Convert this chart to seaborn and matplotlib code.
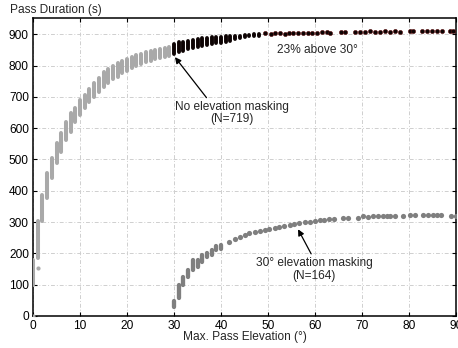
import matplotlib
matplotlib.use("Agg")
import matplotlib.pyplot as plt
import seaborn as sns
import pandas as pd

# ---- data ----
# No elevation masking, 0-29 deg (light gray columns: elevation, min, max duration)
gray_elev = list(range(0, 30))
gray_lo = [100, 185, 305, 377, 441, 489, 524, 562, 588, 620, 642, 665, 684, 700, 716,
           732, 745, 757, 764, 776, 782, 792, 798, 804, 810, 815, 820, 824, 828, 832]
gray_hi = [180, 305, 386, 457, 505, 553, 585, 620, 649, 665, 690, 706, 725, 745, 760,
           778, 790, 800, 808, 816, 822, 827, 833, 838, 843, 847, 851, 854, 857, 860]
gray_extra_elev = [0, 1]
gray_extra_dur = [0, 153]

# No elevation masking, above 30 deg (dark points)
dark_col_elev = list(range(30, 49))
dark_col_lo = [838, 843, 848, 852, 857, 860, 863, 866, 869, 871, 873, 876, 880, 884, 887, 890, 893, 893, 895]
dark_col_hi = [870, 874, 876, 880, 882, 884, 887, 889, 890, 892, 892, 894, 895, 895, 896, 899, 898, 902, 900]
dark_pt_elev = [49.4, 50.6, 51.5, 52.6, 53.6, 54.5, 55.3, 56.4, 57.4, 58.5, 59.4, 60.4, 61.4, 62.6,
                63.2, 65.5, 66.4, 68.5, 69.6, 70.6, 71.7, 72.8, 73.8, 74.9, 76.0, 77.0, 78.1, 80.2,
                80.9, 82.7, 83.8, 84.8, 85.9, 87.0, 88.7, 89.4]
dark_pt_dur = [903, 901, 903, 904, 902, 903, 904, 903, 905, 903, 905, 905, 906, 906,
               905, 907, 906, 906, 908, 907, 909, 907, 908, 909, 908, 909, 908, 910,
               909, 909, 910, 911, 909, 910, 911, 910]

# 30 deg elevation masking (medium gray)
mask_col_elev = list(range(30, 41))
mask_col_lo = [30, 58, 100, 125, 147, 157, 172, 188, 195, 210, 214]
mask_col_hi = [48, 100, 124, 147, 178, 178, 195, 200, 210, 223, 227]
mask_pt_elev = [41.7, 43.0, 44.0, 45.0, 46.0, 47.2, 48.2, 49.3, 50.3, 51.4, 52.4, 53.5, 54.6, 55.6,
                56.7, 57.8, 58.9, 59.9, 61.0, 62.0, 63.0, 64.0, 66.0, 67.0, 69.1, 70.2, 71.3, 72.3,
                73.3, 74.4, 75.4, 76.0, 77.0, 78.7, 80.2, 81.3, 83.0, 84.0, 85.0, 86.0, 86.8, 89.0, 90.0]
mask_pt_dur = [237, 246, 253, 259, 264, 267, 272, 275, 278, 282, 285, 288, 292, 295,
               297, 299, 301, 303, 306, 307, 309, 310, 312, 312, 314, 319, 317, 318,
               318, 319, 318, 320, 320, 320, 322, 322, 322, 322, 322, 323, 322, 321, 321]

x_ticks = list(range(0, 91, 10))
y_ticks = list(range(0, 901, 100))

# ---- style ----
sns.set_style("ticks")
plt.rcParams["font.family"] = ["Liberation Sans", "DejaVu Sans"]
plt.rcParams["font.size"] = 8.6

LIGHT = "#a9a9a9"
MID = "#7f7f7f"
DARK = "#0d0303"
DARK_EDGE = "#5a0c0c"

fig = plt.figure(figsize=(4.58, 3.48), dpi=100)
ax = fig.add_axes([33 / 458, 32 / 348, (456 - 33) / 458, (316 - 18) / 348])

# columns
lc = ax.vlines(gray_elev, gray_lo, gray_hi, colors=LIGHT, linewidth=2.9, zorder=3)
lc.set_capstyle("round")
lc = ax.vlines(dark_col_elev, dark_col_lo, dark_col_hi, colors=DARK, linewidth=2.8, zorder=4)
lc.set_capstyle("round")
lc = ax.vlines(mask_col_elev, mask_col_lo, mask_col_hi, colors=MID, linewidth=3.1, zorder=3)
lc.set_capstyle("round")

# points
sns.scatterplot(x=gray_extra_elev, y=gray_extra_dur, ax=ax, color=LIGHT, s=9, linewidth=0, zorder=3)
sns.scatterplot(x=dark_pt_elev, y=dark_pt_dur, ax=ax, color=DARK, edgecolor=DARK_EDGE,
                s=9, linewidth=0.4, zorder=4)
sns.scatterplot(x=mask_pt_elev, y=mask_pt_dur, ax=ax, color=MID, s=14, linewidth=0, zorder=3)

ax.set_xlim(0, 90)
ax.set_ylim(0, 952)
ax.set_xticks(x_ticks)
ax.set_yticks(y_ticks)
ax.grid(True, color="#cfcfcf", linestyle=(0, (4, 2, 1, 2)), linewidth=0.7, zorder=0)
ax.tick_params(direction="in", length=3, width=0.8, top=True, right=True, pad=3,
               labelsize=8.6, colors="black")
for sp in ax.spines.values():
    sp.set_visible(True)
    sp.set_linewidth(1.1)
    sp.set_color("black")

fig.text(10 / 458, 1 - 10 / 348, "Pass Duration (s)", ha="left", va="center", fontsize=8.6)
fig.text(245 / 458, 1 - 337 / 348, "Max. Pass Elevation (°)", ha="center", va="center", fontsize=8.6)

ax.text(52, 850, "23% above 30°", ha="left", va="center", fontsize=8.6)

ax.annotate("No elevation masking\n(N=719)", xy=(30.2, 827), xytext=(42.3, 648),
            ha="center", va="center", fontsize=8.6, linespacing=1.05,
            arrowprops=dict(arrowstyle="-|>", color="black", lw=0.9, mutation_scale=9,
                            shrinkA=0, shrinkB=0, relpos=(0.3, 1.0)))
ax.annotate("30° elevation masking\n(N=164)", xy=(56.4, 277), xytext=(59.8, 149),
            ha="center", va="center", fontsize=8.6, linespacing=1.05,
            arrowprops=dict(arrowstyle="-|>", color="black", lw=0.9, mutation_scale=9,
                            shrinkA=0, shrinkB=0, relpos=(0.49, 1.0)))

fig.savefig("out.png", dpi=100)
